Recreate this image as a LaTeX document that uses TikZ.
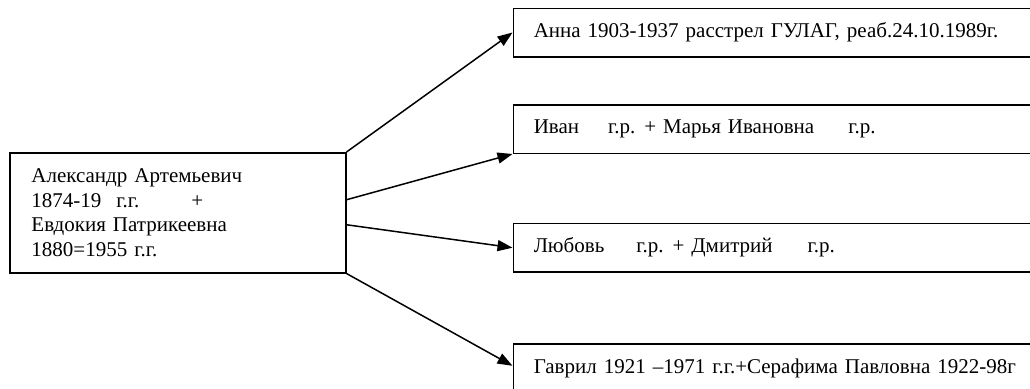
\documentclass[tikz,border=0pt]{standalone}
\usepackage{fontspec}
\setmainfont{Liberation Serif}
\usetikzlibrary{arrows.meta}
\tikzset{
  box/.style={draw, line width=1.5pt, rectangle, inner ysep=0pt, align=left,
    font=\fontsize{21}{24.5}\selectfont},
  kid/.style={box, anchor=north west, minimum width=560pt, minimum height=48.5pt,
    text width=519pt, inner xsep=20.5pt},
  arr/.style={line width=1.5pt, -{Triangle[length=15pt,width=11pt]}}
}
\begin{document}
\begin{tikzpicture}[x=1pt,y=-1pt]
\useasboundingbox (0,0) rectangle (1030,388);
\clip (0,0) rectangle (1030,388);
\node[box, anchor=north west, minimum width=336pt, minimum height=120pt,
  text width=292.6pt, inner xsep=21.7pt] (p) at (9,152)
  {Александр Артемьевич\\1874-19\hspace{15pt}г.г.\hspace{52pt}+\\Евдокия Патрикеевна\\1880=1955 г.г.};
\node[kid] (b1) at (512.5,7.5) {Анна 1903-1937 расстрел ГУЛАГ, реаб.24.10.1989г.};
\node[kid] (b2) at (512.5,104) {Иван\hspace{29pt}г.р.\hspace{9pt}+ Марья Ивановна\hspace{34pt}г.р.};
\node[kid] (b3) at (512.5,222.7) {Любовь\hspace{32pt}г.р.\hspace{9pt}+ Дмитрий\hspace{35pt}г.р.};
\node[kid] (b4) at (512.5,343.3) {Гаврил 1921 –1971 г.г.+Серафима Павловна 1922-98г};
\draw[arr] (p.north east) -- (b1.west);
\draw[arr] ([yshift=13pt]p.east) -- (b2.south west);
\draw[arr] ([yshift=-12pt]p.east) -- (b3.west);
\draw[arr] (p.south east) -- ([yshift=2.5pt]b4.west);
\end{tikzpicture}
\end{document}
